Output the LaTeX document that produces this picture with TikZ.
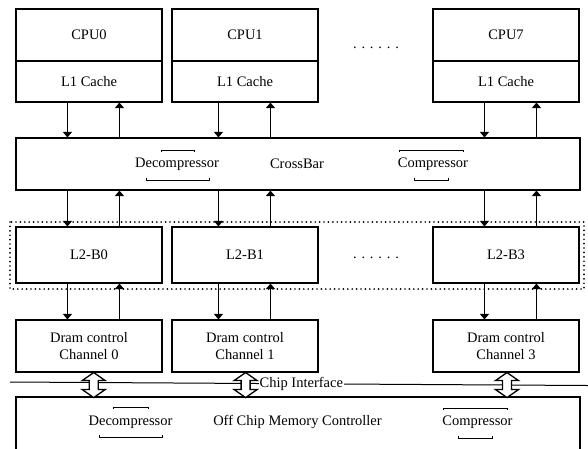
\documentclass[tikz,border=0pt]{standalone}
\usepackage{fontspec}
\setmainfont{Liberation Serif}
\usetikzlibrary{arrows.meta,calc}
\begin{document}
\begin{tikzpicture}[x=1pt,y=-1pt,
  every node/.style={font=\fontsize{14.5}{17}\selectfont},
  box/.style={draw, line width=1.1pt, inner sep=0pt},
  txt/.style={inner sep=0pt},
  arr/.style={line width=0.9pt, -{Triangle[width=9pt,length=5.5pt]}},
  brk/.style={line width=1pt},
  dbl/.style={draw, fill=white, line width=1.3pt, line join=miter},
  dotbox/.style={line width=1.9pt, line cap=round, dash pattern=on 0pt off 4.4pt}]
\useasboundingbox (0,0) rectangle (588,448);

% CPU row
\node[box, minimum width=146pt, minimum height=52pt] (cpu0) at (89,35) {CPU0};
\node[box, minimum width=146pt, minimum height=41pt] (l1a) at (89,81.5) {L1 Cache};
\node[box, minimum width=146pt, minimum height=52pt] (cpu1) at (245,35) {CPU1};
\node[box, minimum width=146pt, minimum height=41pt] (l1b) at (245,81.5) {L1 Cache};
\node[box, minimum width=146pt, minimum height=52pt] (cpu7) at (506,35) {CPU7};
\node[box, minimum width=146pt, minimum height=41pt] (l1d) at (506,81.5) {L1 Cache};
\node[txt] (dotsA) at (376,48) {. . . . . .};

% CrossBar
\node[box, minimum width=564pt, minimum height=52pt] (xbar) at (298,164) {};
\node[txt] (decA) at (177,164) {Decompressor};
\node[txt] (xbt) at (297,164) {CrossBar};
\node[txt] (compA) at (433,164) {Compressor};
\draw[brk] (161,152) -- (161,150) -- (194,150) -- (194,152);
\draw[brk] (146,178) -- (146,180) -- (209,180) -- (209,178);
\draw[brk] (399,152) -- (399,150) -- (463,150) -- (463,152);
\draw[brk] (414,178) -- (414,180) -- (448,180) -- (448,178);

% L2 banks
\draw[dotbox] (10,222) rectangle (584,289);
\node[box, minimum width=146pt, minimum height=56pt] (l2a) at (89,255) {L2-B0};
\node[box, minimum width=146pt, minimum height=56pt] (l2b) at (245,255) {L2-B1};
\node[box, minimum width=146pt, minimum height=56pt] (l2d) at (506,255) {L2-B3};
\node[txt] (dotsB) at (376,258) {. . . . . .};

% Dram control
\node[box, minimum width=146pt, minimum height=52pt, align=center] (dra) at (89,346) {Dram control\\Channel 0};
\node[box, minimum width=146pt, minimum height=52pt, align=center] (drb) at (245,346) {Dram control\\Channel 1};
\node[box, minimum width=146pt, minimum height=52pt, align=center] (drd) at (506,346) {Dram control\\Channel 3};

% vertical arrows
\foreach \U/\M/\D/\a/\b in {l1a/l2a/dra/52/104, l1b/l2b/drb/47/99, l1d/l2d/drd/52/104} {
  \coordinate (p) at ($(\U.south west)+(\a,0)$);
  \coordinate (q) at ($(\U.south west)+(\b,0)$);
  \draw[arr] (p) -- (p |- xbar.north);
  \draw[arr] (q |- xbar.north) -- (q);
  \draw[arr] (p |- xbar.south) -- (p |- \M.north);
  \draw[arr] (q |- \M.north) -- (q |- xbar.south);
  \draw[arr] (p |- \M.south) -- (p |- \D.north);
  \draw[arr] (q |- \D.north) -- (q |- \M.south);
}

% Off chip memory controller
\node[box, minimum width=564pt, minimum height=56pt] (occ) at (298,425) {};
\node[txt] (decB) at (130.5,422) {Decompressor};
\node[txt] (occt) at (297.5,422) {Off Chip Memory Controller};
\node[txt] (compB) at (477.5,422.5) {Compressor};
\draw[brk] (113,409) -- (113,407) -- (148,407) -- (148,409);
\draw[brk] (99,435) -- (99,437) -- (162,437) -- (162,435);
\draw[brk] (443,410) -- (443,408) -- (507,408) -- (507,410);
\draw[brk] (458,436) -- (458,438) -- (492,438) -- (492,436);

% Chip interface
\coordinate (ciL) at (10,382);
\coordinate (ciR) at (588,385.5);
\draw[line width=1pt] (ciL) -- node[pos=0.504, fill=white, inner sep=1pt] (ci) {Chip Interface} (ciR);

% double arrows
\foreach \d/\s in {dra/4.7, drb/0.6, drd/1} {
  \coordinate (t) at ($(\d.south)+(\s,0)$);
  \draw[dbl] (t) -- ++(11.5,8) -- ++(-7,0) -- ++(0,9) -- ++(7,0) -- ++(-11.5,8)
    -- ++(-11.5,-8) -- ++(7,0) -- ++(0,-9) -- ++(-7,0) -- cycle;
}
\end{tikzpicture}
\end{document}
